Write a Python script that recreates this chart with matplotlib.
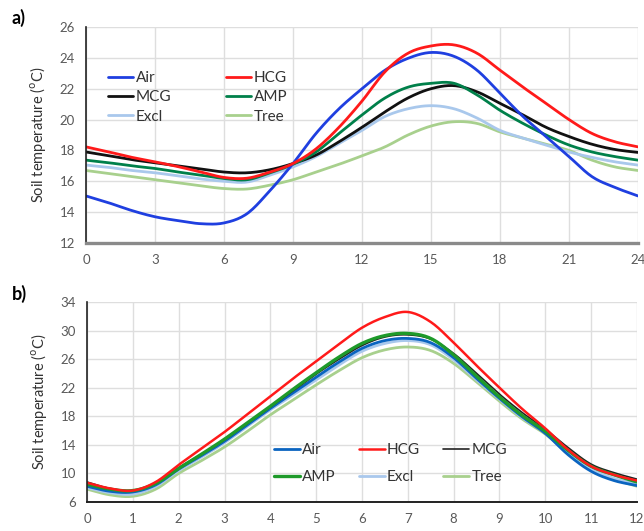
import matplotlib
matplotlib.use("Agg")
import matplotlib.pyplot as plt
import numpy as np

plt.rcParams['font.family'] = ['Lato', 'DejaVu Sans']

# ---------- Panel a data (24 h) ----------
hours_a = list(range(0, 25))
air_a  = [15.05, 14.6, 14.1, 13.7, 13.45, 13.25, 13.3, 13.9, 15.4, 17.15, 19.1, 20.7, 22.0,
          23.2, 23.97, 24.35, 24.1, 23.2, 21.7, 20.2, 18.9, 17.6, 16.3, 15.6, 15.05]
hcg_a  = [18.23, 17.9, 17.55, 17.26, 16.95, 16.6, 16.25, 16.2, 16.6, 17.15, 18.1, 19.5, 21.2,
          23.1, 24.3, 24.77, 24.84, 24.3, 23.2, 22.1, 21.05, 20.0, 19.1, 18.56, 18.23]
mcg_a  = [17.9, 17.65, 17.4, 17.2, 17.0, 16.8, 16.6, 16.55, 16.75, 17.15, 17.7, 18.56, 19.5,
          20.5, 21.4, 22.0, 22.2, 21.8, 21.05, 20.3, 19.5, 18.9, 18.4, 18.06, 17.87]
amp_a  = [17.37, 17.2, 17.0, 16.83, 16.6, 16.4, 16.18, 16.1, 16.55, 17.1, 17.9, 19.1, 20.3,
          21.4, 22.1, 22.35, 22.35, 21.6, 20.6, 19.75, 19.0, 18.35, 17.9, 17.6, 17.37]
excl_a = [17.05, 16.9, 16.7, 16.55, 16.35, 16.15, 16.0, 15.95, 16.4, 16.93, 17.6, 18.45, 19.3,
          20.2, 20.7, 20.9, 20.7, 20.1, 19.3, 18.8, 18.35, 17.9, 17.55, 17.26, 17.05]
tree_a = [16.7, 16.5, 16.3, 16.1, 15.9, 15.7, 15.53, 15.5, 15.75, 16.1, 16.6, 17.1, 17.65,
          18.23, 19.0, 19.58, 19.86, 19.75, 19.2, 18.8, 18.4, 18.0, 17.37, 16.93, 16.7]

# ---------- Panel b data (12 h) ----------
hours_b = [0, 0.5, 1, 1.5, 2, 2.5, 3, 3.5, 4, 4.5, 5, 5.5, 6, 6.5, 7, 7.5, 8, 8.5, 9, 9.5,
           10, 10.5, 11, 11.5, 12]
air_b  = [8.2, 7.5, 7.4, 8.4, 10.6, 12.5, 14.5, 16.8, 19.1, 21.3, 23.5, 25.6, 27.5, 28.6, 28.9,
          28.3, 26.2, 23.3, 20.5, 17.9, 15.6, 12.6, 10.3, 9.0, 8.3]
hcg_b  = [8.7, 7.9, 7.6, 8.8, 11.2, 13.5, 15.8, 18.3, 20.8, 23.3, 25.7, 28.1, 30.4, 31.9, 32.6,
          31.2, 28.3, 25.1, 22.0, 19.0, 16.3, 13.3, 11.0, 9.8, 9.0]
mcg_b  = [8.8, 7.9, 7.6, 8.6, 10.8, 12.7, 14.7, 17.0, 19.3, 21.6, 23.9, 26.0, 27.9, 29.1, 29.4,
          28.8, 26.8, 24.0, 21.1, 18.5, 16.2, 13.6, 11.3, 10.1, 9.2]
amp_b  = [8.5, 7.8, 7.6, 8.6, 10.7, 12.7, 14.8, 17.1, 19.4, 21.8, 24.1, 26.3, 28.2, 29.3, 29.6,
          28.9, 26.6, 23.6, 20.7, 18.1, 15.9, 13.2, 11.0, 9.8, 8.8]
excl_b = [8.0, 7.3, 7.1, 8.2, 10.4, 12.3, 14.3, 16.6, 18.9, 21.0, 23.1, 25.2, 27.1, 28.2, 28.6,
          28.0, 25.9, 23.1, 20.4, 17.8, 15.7, 12.9, 10.6, 9.3, 8.5]
tree_b = [7.8, 7.0, 6.8, 7.8, 10.0, 11.8, 13.7, 15.9, 18.2, 20.3, 22.4, 24.4, 26.2, 27.3, 27.7,
          27.2, 25.4, 22.8, 20.1, 17.6, 15.5, 12.9, 10.6, 9.2, 8.2]

names = ["Air", "HCG", "MCG", "AMP", "Excl", "Tree"]
xticks_a = [0, 3, 6, 9, 12, 15, 18, 21, 24]
yticks_a = [12, 14, 16, 18, 20, 22, 24, 26]
xticks_b = list(range(0, 13))
yticks_b = [6, 10, 14, 18, 22, 26, 30, 34]

colors_a = ["#1f3fe0", "#ff1a1a", "#111111", "#00804a", "#a9c8ec", "#a8d08d"]
colors_b = ["#0a64c0", "#ff1a1a", "#222222", "#1e9a2a", "#a9c8ec", "#a8d08d"]
lw_a = [2.0, 2.0, 2.0, 2.0, 2.0, 2.0]
lw_b = [2.0, 1.8, 1.2, 2.4, 2.0, 2.0]


def smooth(x, y, n=12):
    """Excel-style smoothed line drawing (Catmull-Rom through the data points)."""
    x = np.asarray(x, float)
    y = np.asarray(y, float)
    px = np.concatenate([[2 * x[0] - x[1]], x, [2 * x[-1] - x[-2]]])
    py = np.concatenate([[2 * y[0] - y[1]], y, [2 * y[-1] - y[-2]]])
    xs, ys = [], []
    t = np.linspace(0, 1, n, endpoint=False)
    for i in range(1, len(px) - 2):
        for arr, src in ((ys, py), (xs, px)):
            a0, a1, a2, a3 = src[i - 1], src[i], src[i + 1], src[i + 2]
            arr.extend(0.5 * ((2 * a1) + (-a0 + a2) * t + (2 * a0 - 5 * a1 + 4 * a2 - a3) * t ** 2
                              + (-a0 + 3 * a1 - 3 * a2 + a3) * t ** 3))
    xs.append(x[-1])
    ys.append(y[-1])
    return np.array(xs), np.array(ys)


fig = plt.figure(figsize=(6.44, 5.31), dpi=100)
ax1 = fig.add_axes([86 / 644, 1 - 243 / 531, 552 / 644, 216 / 531])
ax2 = fig.add_axes([87 / 644, 1 - 502 / 531, 550 / 644, 200 / 531])

tick_color = "#595959"
ylabel = r"Soil temperature ($^{\rm o}$C)"

for ax, x, series, cols, lws, xt, yt in [
        (ax1, hours_a, [air_a, hcg_a, mcg_a, amp_a, excl_a, tree_a], colors_a, lw_a, xticks_a, yticks_a),
        (ax2, hours_b, [air_b, hcg_b, mcg_b, amp_b, excl_b, tree_b], colors_b, lw_b, xticks_b, yticks_b)]:
    order = [5, 4, 2, 3, 0, 1] if ax is ax1 else [5, 4, 0, 2, 3, 1]
    lines = {}
    for i in order:
        sx, sy = smooth(x, series[i])
        ln, = ax.plot(sx, sy, color=cols[i], lw=lws[i], label=names[i],
                      solid_capstyle='round', solid_joinstyle='round')
        lines[i] = ln
    ax.set_xlim(xt[0], xt[-1])
    ax.set_ylim(yt[0], yt[-1])
    ax.set_xticks(xt)
    ax.set_yticks(yt)
    ax.grid(True, color="#dedede", lw=1.0)
    ax.set_axisbelow(True)
    ax.tick_params(length=0, labelsize=9.5, colors=tick_color, pad=8)
    for s in ["top", "right"]:
        ax.spines[s].set_visible(False)
    ax.set_ylabel(ylabel, fontsize=10.5, color="#333333", labelpad=8)
    ax.spines["left"].set_color("#222222")
    ax.spines["left"].set_linewidth(1.2)
    if ax is ax1:
        ax.spines["bottom"].set_color("#8a8a8a")
        ax.spines["bottom"].set_linewidth(2.4)
        idx = [0, 2, 4, 1, 3, 5]   # row-wise: Air HCG / MCG AMP / Excl Tree
        leg = ax.legend([lines[i] for i in idx], [names[i] for i in idx], ncol=2,
                        loc="upper left", bbox_to_anchor=(0.015, 0.86),
                        frameon=False, fontsize=11, handlelength=1.65, handletextpad=0.15,
                        columnspacing=3.6, labelspacing=0.35)
    else:
        ax.spines["bottom"].set_color("#222222")
        ax.spines["bottom"].set_linewidth(1.4)
        idx = [0, 3, 1, 4, 2, 5]   # row-wise: Air HCG MCG / AMP Excl Tree
        leg = ax.legend([lines[i] for i in idx], [names[i] for i in idx], ncol=3,
                        loc="lower left", bbox_to_anchor=(0.315, 0.02),
                        frameon=False, fontsize=11, handlelength=1.7, handletextpad=0.15,
                        columnspacing=1.5, labelspacing=0.85)
    for t in leg.get_texts():
        t.set_color("#333333")

fig.text(12 / 644, 1 - 18 / 531, "a)", fontsize=13, fontweight="bold", va="center", ha="left")
fig.text(12 / 644, 1 - 294 / 531, "b)", fontsize=13, fontweight="bold", va="center", ha="left")

fig.savefig("out.png", dpi=100)
